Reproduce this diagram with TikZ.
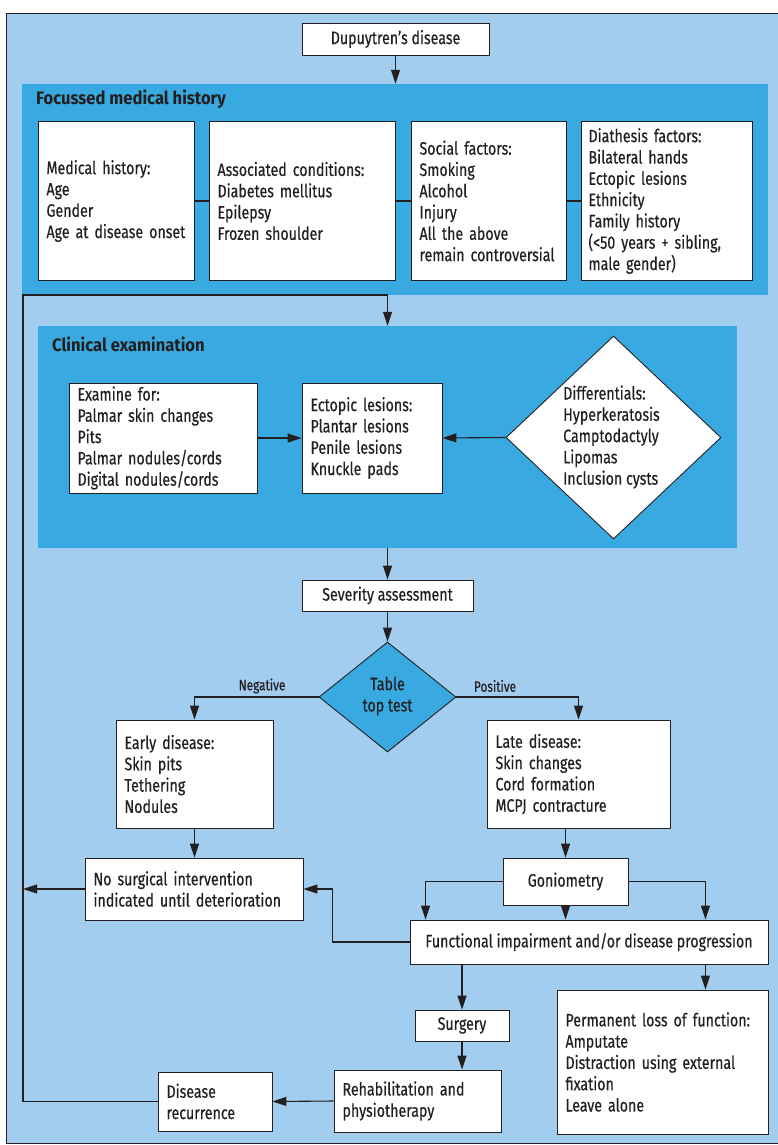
\documentclass[tikz,border=0pt]{standalone}
\usepackage{fontspec}
\setmainfont{Fira Sans}[FakeStretch=0.79,FakeBold=0.4]
\newfontfamily\titlefont{Fira Sans}[FakeStretch=0.92]
\usetikzlibrary{shapes.geometric,arrows.meta,calc}
\definecolor{lblue}{HTML}{A2CDEF}
\definecolor{mblue}{HTML}{38AAE1}
\definecolor{ink}{HTML}{231F20}
\newcommand\mainsz{\fontsize{18}{21.3}\selectfont}
\newcommand\labsz{\fontsize{15}{17}\selectfont}
\hyphenpenalty=10000
\exhyphenpenalty=10000
\begin{document}
\begin{tikzpicture}[x=1pt,y=-1pt]
\tikzset{
  wbox/.style={draw=ink, fill=white, line width=0.9pt, inner xsep=8.5pt, inner ysep=0pt, align=left, font=\mainsz, text=ink},
  cbox/.style={draw=ink, fill=white, line width=0.9pt, inner sep=0pt, align=center, font=\mainsz, text=ink},
  panel/.style={fill=mblue, draw=none, inner sep=0pt},
  ptitle/.style={font=\titlefont\bfseries\mainsz, text=ink, inner sep=0pt, anchor=west},
  txt/.style={font=\mainsz, text=ink, inner sep=0pt, align=left},
  lab/.style={font=\labsz, text=ink, inner sep=0pt},
  dia/.style={shape=diamond, draw=ink, line width=0.9pt, inner sep=0pt},
  arr/.style={-{Triangle[length=14pt,width=9pt]}, line width=1.1pt, draw=ink},
  conn/.style={line width=1.1pt, draw=ink},
}
\useasboundingbox (0,0) rectangle (778,1145);
\clip (0,0) rectangle (778,1145);
\fill[white] (0,0) rectangle (778,1145);
\draw[fill=lblue, draw=ink, line width=1pt] (6,14) rectangle (800,1143);

% top
\node[cbox, minimum width=187pt, minimum height=32pt] (dup) at (395.5,39) {Dupuytren’s disease};

% focussed medical history panel
\node[panel, minimum width=746pt, minimum height=211pt] (fmh) at (395,189.5) {};
\node[ptitle] (fmht) at (36,99) {Focussed medical history};
\node[wbox, text width=139pt, minimum height=159pt] (mh) at (116,201)
  {Medical history:\\Age\\Gender\\Age at disease onset};
\node[wbox, text width=169pt, minimum height=159pt] (ac) at (302,201)
  {Associated conditions:\\Diabetes mellitus\\Epilepsy\\Frozen shoulder};
\node[wbox, text width=138pt, minimum height=159pt] (sf) at (488.5,201)
  {Social factors:\\Smoking\\Alcohol\\Injury\\All the above\\remain controversial};
\node[wbox, inner xsep=7.5pt, text width=156pt, minimum height=159pt] (df) at (666.5,201)
  {Diathesis factors:\\Bilateral hands\\Ectopic lesions\\Ethnicity\\Family history\\(<50 years + sibling,\\male gender)};
\draw[conn] (mh.east) -- (ac.west);
\draw[conn] (ac.east) -- (sf.west);
\draw[conn] (sf.east) -- (df.west);
\draw[arr] (dup.south) -- (dup.south |- fmh.north);

% clinical examination panel
\node[panel, minimum width=699pt, minimum height=222pt] (clin) at (387.5,437) {};
\node[ptitle] (clint) at (52,344) {Clinical examination};
\node[wbox, text width=171pt, minimum height=110pt] (ex) at (163,438)
  {Examine for:\\Palmar skin changes\\Pits\\Palmar nodules/cords\\Digital nodules/cords};
\node[wbox, text width=123pt, minimum height=110pt] (ec) at (372,438)
  {Ectopic lesions:\\Plantar lesions\\Penile lesions\\Knuckle pads};
\node[dia, fill=white, minimum width=215pt, minimum height=203pt] (diff) at (613.5,437.5) {};
\node[txt, anchor=west] (difft) at (563,437) {Differentials:\\Hyperkeratosis\\Camptodactyly\\Lipomas\\Inclusion cysts};
\draw[arr] (ex.east) -- (ec.west);
\draw[arr] (diff.west) -- (ec.east);

% loop line
\coordinate (lt) at (23,295);

% severity
\node[cbox, minimum width=171pt, minimum height=31pt] (sev) at (387.5,595.5) {Severity assessment};
\draw[arr] (clin.south) -- (sev.north);
\node[dia, fill=mblue, minimum width=137pt, minimum height=110pt] (ttt) at (387.5,697) {};
\node[txt, align=center] (tttt) at (387.5,696) {Table\\top test};
\draw[arr] (sev.south) -- (ttt.north);

\node[wbox, text width=140pt, minimum height=108pt] (early) at (194.5,774)
  {Early disease:\\Skin pits\\Tethering\\Nodules};
\node[wbox, text width=166pt, minimum height=108pt] (late) at (578.5,774)
  {Late disease:\\Skin changes\\Cord formation\\MCPJ contracture};
\draw[arr] (ttt.west) -| (early.north);
\draw[arr] (ttt.east) -| (late.north);
\node[lab] (neg) at (262,686) {Negative};
\node[lab] (pos) at (495,686) {Positive};

\node[wbox, text width=201pt, minimum height=62pt] (nosurg) at (194,889)
  {No surgical intervention\\indicated until deterioration};
\draw[arr] (early.south) -- (early.south |- nosurg.north);
\draw[arr] (nosurg.west) -- (nosurg.west -| lt);

\node[cbox, minimum width=125pt, minimum height=47pt] (gonio) at (565.5,881.5) {Goniometry};
\node[cbox, minimum width=358pt, minimum height=44pt] (func) at (589,942) {Functional impairment and/or disease progression};
\draw[arr] (gonio.north |- late.south) -- (gonio.north);
\draw[arr] (gonio.west) -| ($(func.north west)+(16,0)$);
\draw[arr] (gonio.east) -| ($(func.north east)+(-63,0)$);
\draw[arr] (gonio.south) -- (gonio.south |- func.north);
\draw[arr] (func.west) -- ++(-77,0) |- (nosurg.east);

\node[cbox, minimum width=94pt, minimum height=31pt] (surg) at (462,1025.5) {Surgery};
\node[wbox, text width=150pt, minimum height=62pt] (rehab) at (417.5,1101)
  {Rehabilitation and\\physiotherapy};
\node[wbox, text width=97pt, minimum height=59pt] (recur) at (215,1101.5)
  {Disease\\recurrence};
\node[wbox, text width=194pt, minimum height=144pt] (perm) at (662.5,1062)
  {Permanent loss of function:\\Amputate\\Distraction using external\\fixation\\Leave alone};
\coordinate (fr) at ($(func.south east)+(-63,0)$);
\draw[arr] (surg.north |- func.south) -- (surg.north);
\draw[arr] (fr) -- (fr |- perm.north);
\draw[arr] (surg.south) -- (surg.south |- rehab.north);
\draw[arr] (rehab.west) -- (recur.east);
\draw[arr] (recur.west) -| (lt) -| (clin.north);
\end{tikzpicture}
\end{document}
